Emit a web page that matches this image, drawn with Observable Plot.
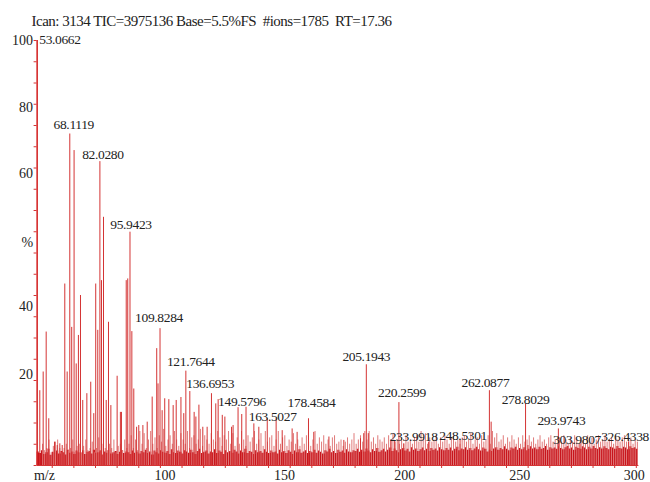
<!DOCTYPE html>
<html><head><meta charset="utf-8">
<script src="https://cdn.jsdelivr.net/npm/d3@7"></script>
<script src="https://cdn.jsdelivr.net/npm/@observablehq/plot@0.6"></script>
<style>
body{margin:0;background:#fff}
#chart{width:650px;height:482px}
.peaklbl text, text.peaklbl{letter-spacing:-0.35px}
.ttl text, text.ttl{letter-spacing:-0.5px}
</style>
</head><body><div id="chart"></div>
<script>
// ---- header ----
const titleText = "Ican: 3134 TIC=3975136 Base=5.5%FS\u00a0 #ions=1785\u00a0 RT=17.36";

// ---- labelled peaks (m/z, relative intensity %) ----
const labelMz = [53.0662, 68.1119, 82.0280, 95.9423, 109.8284, 121.7644, 136.6953, 149.5796, 163.5027, 178.4584, 205.1943, 220.2599, 233.9918, 248.5301, 262.0877, 278.8029, 293.9743, 303.9807, 326.4338];
const labelPct = [100, 78.0, 71.5, 54.9, 32.2, 22.2, 15.5, 13.7, 11.0, 11.0, 23.7, 14.8, 5.5, 6.0, 17.6, 14.4, 8.6, 5.1, 5.5];
const labelText = ["53.0662", "68.1119", "82.0280", "95.9423", "109.8284", "121.7644", "136.6953", "149.5796", "163.5027", "178.4584", "205.1943", "220.2599", "233.9918", "248.5301", "262.0877", "278.8029", "293.9743", "303.9807", "326.4338"];

// ---- other visible peaks ----
const peakMz = [54.24, 55.81, 57.2, 58.4, 61.04, 62.3, 63.5, 64.6, 65.8, 66.9, 69.0, 70.1, 71.07, 72.1, 73.06, 74.1, 76.0, 77.8, 79.2, 80.1, 81.05, 82.77, 83.7, 84.95, 86.0, 87.1, 90.0, 91.5, 92.0, 94.2, 94.9, 96.8, 97.7, 99.0, 100.0, 101.9, 103.9, 106.2, 108.3, 108.9, 110.8, 112.0, 113.9, 115.9, 117.3, 119.5, 120.8, 123.6, 125.6, 126.4, 127.8, 129.6, 131.6, 133.6, 135.6, 138.6, 139.8, 142.9, 143.6, 145.9, 147.6, 153.2, 155.5, 159.4, 166.3, 170.9, 173.2, 180.9, 187.9, 194.8, 202.5, 204.0, 206.1, 216.6, 218.3, 222.5, 262.9, 279.9];
const peakPct = [17.6, 22.0, 31.4, 11.0, 5.5, 4.7, 5.1, 4.7, 42.7, 22.0, 32.5, 74.1, 23.9, 30.6, 40.0, 15.3, 16.9, 19.6, 12.2, 42.7, 31.8, 43.5, 58.4, 15.3, 33.7, 14.1, 21.0, 12.5, 12.5, 43.5, 43.9, 31.5, 18.0, 9.0, 9.4, 9.4, 10.2, 16.1, 27.5, 19.2, 12.9, 15.7, 15.5, 14.1, 15.3, 16.0, 12.2, 17.4, 12.5, 11.4, 14.2, 9.0, 9.0, 16.9, 14.5, 11.8, 11.4, 9.0, 9.4, 13.6, 12.0, 9.8, 9.0, 11.0, 8.2, 8.6, 7.8, 7.8, 6.7, 5.9, 6.3, 7.5, 7.5, 5.9, 5.9, 5.1, 10.2, 4.7];

// ---- small noise spikes, one per m/z unit from 55.5 ----
const noiseStart = 55.5;
const noiseLevels = [
 5, 3.5, 4, 6, 3, 4.5, 5.5, 6, 4, 3,
 4, 5, 3.5, 4, 6, 3, 4.5, 5, 3, 4.5,
 6, 3.5, 4, 5.5, 3, 4, 6.5, 3.5, 5, 4,
 3.5, 5, 4, 6, 3, 4.5, 5, 3.5, 6, 4,
 5, 7, 4, 6, 3.5, 8, 5, 7.5, 4, 6,
 8, 5, 6.5, 4, 7, 5.5, 8.5, 4.5, 6, 7,
 5, 8, 6, 4.5, 7.5, 6, 5, 8, 4, 6.5,
 7, 5, 6, 8.5, 4.5, 7, 6, 5, 7.5, 6,
 5.5, 8, 6.5, 4.5, 7, 6, 8, 5, 7.5, 4.5,
 6.5, 5, 8, 6, 4.5, 7, 5.5, 6.5, 8, 5,
 6, 7.5, 4.5, 8, 5.5, 6.5, 7, 4.5, 6, 8,
 5, 6.5, 7, 4.5, 6, 5.5, 7.5, 5, 6, 4.5,
 6.5, 5, 7, 5.5, 4.5, 6, 8, 5, 6.5, 5.5,
 7, 5, 6, 4.5, 6.5, 7, 5, 5.5, 6, 4.5,
 5.5, 6.5, 5, 6, 7.5, 5, 6, 7, 5.5, 8,
 6, 8, 5.5, 6.5, 5, 7, 6, 5.5, 6.5, 5,
 7, 6, 7.5, 5.5, 6, 5, 6.5, 5, 7, 5.5,
 6, 5, 6.5, 7, 5.5, 8, 6, 7.5, 5, 6.5,
 5.5, 6, 7, 5, 6.5, 5.5, 7, 6, 5, 6.5,
 7, 5.5, 6, 5, 6.5, 7, 5.5, 6, 7.5, 5,
 6, 6.5, 5, 7, 5.5, 6, 7, 5, 8, 6.5,
 7.5, 5.5, 6, 7, 5, 6.5, 5.5, 7, 6, 5,
 6.5, 5, 7, 5.5, 6, 7, 5.5, 6.5, 5, 6,
 7, 5.5, 6, 5, 6.5, 7, 5.5, 6, 5, 6.5,
 5.5, 7, 6, 5, 6.5, 5.5, 7, 6, 5, 6.5,
 6, 5, 7, 5.5, 6.5, 5, 6, 7, 5.5, 6,
 7, 5.5, 6, 6.5, 5, 7, 6, 5.5, 6.5, 7,
 5.5, 6, 6.5, 5, 6, 5.5
];

// ---- dense baseline floor, one level per m/z unit from 53 ----
const floorStart = 53;
const floorLevels = [
 3.2, 2.8, 3.5, 2.6, 3.0, 3.8, 2.4, 3.1, 2.9, 3.4,
 2.7, 3.3, 3.0, 2.5, 3.6, 2.9, 3.2, 2.6, 3.4, 3.0,
 2.8, 3.5, 2.6, 3.1, 3.3, 2.7, 3.6, 2.9, 3.0, 3.4,
 2.5, 3.2, 2.9, 3.6, 2.7, 3.0, 3.3, 2.6, 3.1, 3.5,
 2.8, 3.2, 3.0, 2.6, 3.4, 2.9, 3.1, 2.7, 3.3, 3.0,
 3.6, 2.8, 3.2, 2.5, 3.4, 3.0, 2.7, 3.5, 3.1, 2.9,
 3.3, 2.6, 3.7, 3.0, 2.8, 3.4, 3.1, 2.7, 3.5, 3.2,
 2.9, 3.6, 3.0, 2.6, 3.3, 3.8, 2.8, 3.1, 3.4, 2.7,
 3.2, 3.0, 3.7, 2.8, 3.4, 3.1, 2.6, 3.5, 3.0, 3.3,
 2.9, 3.6, 3.2, 2.7, 3.4, 3.0, 3.8, 2.8, 3.3, 3.1,
 2.6, 3.5, 3.0, 3.3, 2.9, 3.7, 3.1, 2.8, 3.4, 3.0,
 3.2, 2.7, 3.6, 3.0, 3.3, 2.8, 3.5, 3.1, 2.6, 3.4,
 3.0, 3.7, 2.9, 3.2, 3.5, 2.8, 3.3, 3.0, 3.6, 2.9,
 3.4, 3.1, 2.7, 3.5, 3.2, 3.8, 3.0, 3.3, 2.8, 3.6,
 3.1, 3.4, 2.9, 3.7, 3.2, 3.0, 3.5, 3.3, 3.8, 3.1,
 3.6, 3.2, 3.9, 3.4, 3.0, 3.7, 3.3, 4.0, 3.1, 3.5,
 3.8, 3.2, 3.6, 4.1, 3.3, 3.9, 3.5, 3.0, 3.7, 4.0,
 3.4, 3.8, 3.2, 4.2, 3.6, 3.9, 3.3, 3.7, 4.1, 3.5,
 3.8, 3.3, 4.0, 3.6, 3.9, 3.4, 4.2, 3.7, 3.5, 4.0,
 3.6, 4.1, 3.4, 3.8, 4.3, 3.5, 3.9, 3.7, 4.2, 3.6,
 4.0, 3.5, 3.9, 4.3, 3.7, 3.4, 4.1, 3.8, 3.2, 3.6,
 3.3, 3.9, 4.2, 3.6, 4.0, 3.7, 4.4, 3.8, 3.5, 4.1,
 3.9, 4.3, 3.6, 4.0, 3.7, 4.2, 3.5, 3.8, 4.4, 3.9,
 4.1, 3.7, 4.3, 3.8, 4.0, 4.5, 3.6, 4.2, 3.9, 4.1,
 3.8, 4.4, 4.0, 3.7, 4.2, 4.5, 3.9, 4.1, 3.6, 4.3,
 4.0, 3.8, 4.4, 4.1, 3.7, 4.3, 3.9, 4.5, 4.0, 3.8,
 4.2, 3.9, 4.4, 4.0, 3.7, 4.3, 4.1, 3.8, 4.5, 4.0,
 3.9, 4.3, 4.1, 3.7, 4.4, 4.0, 4.2, 3.8, 3.5
];

// ---- axis tick labels ----
const yLabels = ["100", "80", "60", "%", "40", "20"];
const yLabelPos = [100, 84.3, 68.6, 52.5, 37.3, 21.4];
const yTickStep = 5;
const xLabels = ["m/z", "100", "150", "200", "250", "300"];
const xLabelPos = [56.4, 112.1, 167.4, 222.9, 276.1, 329.0];
const xTickStep = 10;

// ---- tables ----
const labelled = labelMz.map((mz, i) => ({mz, h: labelPct[i], label: labelText[i]}));
const peaks = peakMz.map((mz, i) => ({mz, h: peakPct[i]}));
const noise = noiseLevels.map((h, i) => ({mz: noiseStart + i, h}));
const floor = floorLevels.map((h, i) => ({mz: floorStart + i, h}));

// ---- label placement (layout only): [dx, dy] in pixels relative to the peak top ----
const labelNudge = {
  "68.1119": [4, -5], "82.0280": [3, -3], "95.9423": [1, -3], "109.8284": [-1, -6.5],
  "121.7644": [5, -5.5], "136.6953": [-8, -12], "149.5796": [-4, -1], "163.5027": [-3.5, 2],
  "178.4584": [3, -11.5], "205.1943": [0, -3.5], "220.2599": [3, -5.5], "233.9918": [-15, -1.5],
  "248.5301": [3, 0], "262.0877": [-4, -3.5], "278.8029": [0, -0.5], "293.9743": [3, -3.5],
  "303.9807": [-3, 0], "326.4338": [-3.5, -1]
};

const RED = "#d43434";
const TXT = "#222";

const labelMarks = labelled.slice(1).map(d => {
  const [dx, dy] = labelNudge[d.label] || [0, -3];
  return Plot.text([d], {x: "mz", y: "h", text: "label", lineAnchor: "bottom",
    dx, dy, fontSize: 13.5, fill: TXT, className: "peaklbl"});
});

const chart = Plot.plot({
  width: 650,
  height: 482,
  marginLeft: 36.6,
  marginRight: 11.6,
  marginTop: 40,
  marginBottom: 17,
  style: {fontFamily: "'Liberation Serif', 'DejaVu Serif', serif", fontSize: "14px", color: TXT, background: "#fff"},
  x: {domain: [53, 331.2], axis: null},
  y: {domain: [0, 100], axis: null},
  marks: [
    Plot.areaY(floor, {x: "mz", y: "h", curve: "step-after", fill: "#c8141c"}),
    Plot.ruleX(noise, {x: "mz", y1: 0, y2: "h", stroke: "#e07a7a", strokeWidth: 1}),
    Plot.ruleX(peaks, {x: "mz", y1: 0, y2: "h", stroke: RED, strokeWidth: 1}),
    Plot.ruleX(labelled, {x: "mz", y1: 0, y2: "h", stroke: RED, strokeWidth: 1}),
    Plot.ruleY([0], {stroke: RED, strokeWidth: 1}),
    Plot.ruleX([53], {y1: 0, y2: 100, stroke: "#d42020", strokeWidth: 1.2}),
    Plot.axisY({ticks: d3.range(0, 100 + yTickStep, yTickStep), tickSize: 3, stroke: RED,
      tickFormat: () => "", label: null}),
    Plot.axisY({ticks: yLabelPos, tickSize: 0, tickPadding: 4, fontSize: 14, label: null,
      tickFormat: d => yLabels[yLabelPos.indexOf(d)]}),
    Plot.axisX({ticks: d3.range(60, 331, xTickStep), tickSize: 3, stroke: RED,
      tickFormat: () => "", label: null}),
    Plot.axisX({ticks: xLabelPos, tickSize: 0, tickPadding: 4.6, fontSize: 14, label: null,
      tickFormat: d => xLabels[xLabelPos.indexOf(d)]}),
    Plot.text(labelled.slice(0, 1), {x: "mz", y: "h", text: "label", textAnchor: "start", lineAnchor: "bottom",
      dx: 2, dy: 3.5, fontSize: 13.5, fill: TXT, className: "peaklbl"}),
    ...labelMarks,
    Plot.text([titleText], {frameAnchor: "top-left", textAnchor: "start", lineAnchor: "bottom",
      dx: -5.6, dy: -15, fontSize: 15, fill: TXT, className: "ttl"})
  ]
});
document.getElementById("chart").appendChild(chart);
</script>
</body></html>
